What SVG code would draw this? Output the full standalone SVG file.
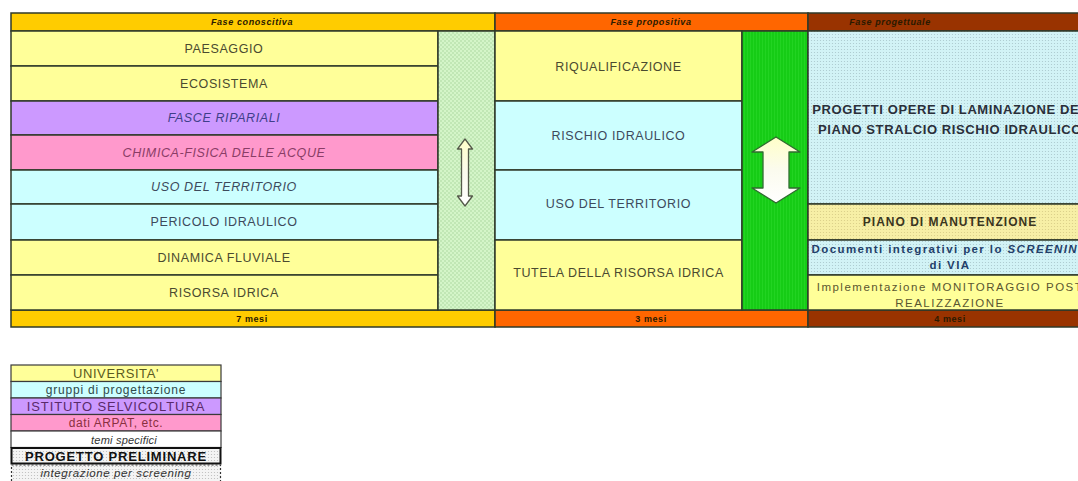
<svg xmlns="http://www.w3.org/2000/svg" width="1078" height="481" viewBox="0 0 1078 481">
<defs>
<pattern id="dotGreen" width="4" height="4" patternUnits="userSpaceOnUse">
<rect width="4" height="4" fill="#d4f5c8"/>
<circle cx="1" cy="1" r="0.7" fill="#9fcf93"/>
<circle cx="3" cy="3" r="0.7" fill="#9fcf93"/>
</pattern>
<pattern id="dotCyan" width="3" height="3" patternUnits="userSpaceOnUse">
<rect width="3" height="3" fill="#d2f3f6"/>
<circle cx="1.5" cy="1.5" r="0.6" fill="#a9c7cc"/>
</pattern>
<pattern id="dotYellow" width="3" height="3" patternUnits="userSpaceOnUse">
<rect width="3" height="3" fill="#f7efa6"/>
<circle cx="1.5" cy="1.5" r="0.6" fill="#d8cc86"/>
</pattern>
<pattern id="dotWhite" width="3" height="3" patternUnits="userSpaceOnUse">
<rect width="3" height="3" fill="#f4f4f4"/>
<circle cx="1.5" cy="1.5" r="0.6" fill="#bbbbbb"/>
</pattern>
<pattern id="greenStripe" width="3" height="4" patternUnits="userSpaceOnUse">
<rect width="3" height="4" fill="#16cc16"/>
<rect width="1" height="4" fill="#22d422"/>
</pattern>
<linearGradient id="arrowFill" x1="0" y1="0" x2="0" y2="1">
<stop offset="0" stop-color="#ffffc8"/>
<stop offset="0.5" stop-color="#fbfbee"/>
<stop offset="1" stop-color="#ffffff"/>
</linearGradient>
</defs>
<style>
.cell{stroke:#2f3a2a;stroke-width:1.5}
.t{font-family:"Liberation Sans",Arial,sans-serif;font-size:12.5px;text-anchor:middle;dominant-baseline:central;letter-spacing:0.6px}
.hdr{font-family:"Liberation Sans",Arial,sans-serif;font-size:9px;font-weight:bold;font-style:italic;text-anchor:middle;dominant-baseline:central;letter-spacing:0.6px;fill:#2a1a00}
.b{font-family:"Liberation Sans",Arial,sans-serif;font-weight:bold;text-anchor:middle;dominant-baseline:central}
.lg{font-family:"Liberation Sans",Arial,sans-serif;font-size:12.5px;text-anchor:middle;dominant-baseline:central;letter-spacing:0.6px}
.lgc{stroke:#3a3a3a;stroke-width:1.2}
</style>
<rect width="1078" height="481" fill="#ffffff"/>

<g id="header">
<rect x="11" y="13" width="484" height="18" fill="#ffcc00" class="cell"/>
<rect x="495" y="13" width="313" height="18" fill="#ff6600" class="cell"/>
<rect x="808" y="13" width="275" height="18" fill="#993300" class="cell"/>
<text class="hdr" x="252" y="22">Fase conoscitiva</text>
<text class="hdr" x="651" y="22">Fase propositiva</text>
<text class="hdr" x="890" y="22" fill="#2a0800">Fase progettuale</text>
</g>

<g id="footer">
<rect x="11" y="310" width="484" height="17" fill="#ffcc00" class="cell"/>
<rect x="495" y="310" width="313" height="17" fill="#ff6600" class="cell"/>
<rect x="808" y="310" width="275" height="17" fill="#993300" class="cell"/>
<text class="hdr" x="252" y="318.5" style="font-style:normal">7 mesi</text>
<text class="hdr" x="651" y="318.5" style="font-style:normal">3 mesi</text>
<text class="hdr" x="950" y="318.5" style="font-style:normal" fill="#2a0800">4 mesi</text>
</g>

<g id="paesaggio"><rect x="11" y="31" width="427" height="35" fill="#ffff99" class="cell"/><text class="t" x="224" y="48.5" fill="#4a4a30">PAESAGGIO</text></g>
<g id="ecosistema"><rect x="11" y="66" width="427" height="35" fill="#ffff99" class="cell"/><text class="t" x="224" y="83.5" fill="#4a4a30">ECOSISTEMA</text></g>
<g id="fasce"><rect x="11" y="101" width="427" height="34" fill="#cc99ff" class="cell"/><text class="t" x="224" y="118" fill="#3f3f8a" font-style="italic">FASCE RIPARIALI</text></g>
<g id="chimica"><rect x="11" y="135" width="427" height="35" fill="#ff99cc" class="cell"/><text class="t" x="224" y="152.5" fill="#8a3d66" font-style="italic">CHIMICA-FISICA DELLE ACQUE</text></g>
<g id="uso1"><rect x="11" y="170" width="427" height="34" fill="#ccffff" class="cell"/><text class="t" x="224" y="187" fill="#3d4a5c" font-style="italic">USO DEL TERRITORIO</text></g>
<g id="pericolo"><rect x="11" y="204" width="427" height="36" fill="#ccffff" class="cell"/><text class="t" x="224" y="222" fill="#3d4a5c">PERICOLO IDRAULICO</text></g>
<g id="dinamica"><rect x="11" y="240" width="427" height="35" fill="#ffff99" class="cell"/><text class="t" x="224" y="257.5" fill="#4a4a30">DINAMICA FLUVIALE</text></g>
<g id="risorsa"><rect x="11" y="275" width="427" height="35" fill="#ffff99" class="cell"/><text class="t" x="224" y="292.5" fill="#4a4a30">RISORSA IDRICA</text></g>

<g id="colonna1"><rect x="438" y="31" width="57" height="279" fill="url(#dotGreen)" class="cell"/></g>

<g id="riqualificazione"><rect x="495" y="31" width="247" height="70" fill="#ffff99" class="cell"/><text class="t" x="618.5" y="67" fill="#4a4a30">RIQUALIFICAZIONE</text></g>
<g id="rischio"><rect x="495" y="101" width="247" height="69" fill="#ccffff" class="cell"/><text class="t" x="618.5" y="136" fill="#3d4a5c">RISCHIO IDRAULICO</text></g>
<g id="uso2"><rect x="495" y="170" width="247" height="70" fill="#ccffff" class="cell"/><text class="t" x="618.5" y="204" fill="#3d4a5c">USO DEL TERRITORIO</text></g>
<g id="tutela"><rect x="495" y="240" width="247" height="70" fill="#ffff99" class="cell"/><text class="t" x="618.5" y="273" fill="#4a4a30">TUTELA DELLA RISORSA IDRICA</text></g>

<g id="colonna2"><rect x="742" y="31" width="66" height="279" fill="url(#greenStripe)" class="cell"/></g>

<g id="progetti"><rect x="808" y="31" width="290" height="173" fill="url(#dotCyan)" class="cell"/>
<text class="b" x="950" y="109" font-size="13" letter-spacing="0.6" fill="#2a2f3a">PROGETTI OPERE DI LAMINAZIONE DEL</text>
<text class="b" x="950" y="129" font-size="13" letter-spacing="0.6" fill="#2a2f3a">PIANO STRALCIO RISCHIO IDRAULICO</text></g>
<g id="manutenzione"><rect x="808" y="204" width="290" height="36" fill="url(#dotYellow)" class="cell"/>
<text class="b" x="950" y="222" font-size="12" letter-spacing="1" fill="#3a3520">PIANO DI MANUTENZIONE</text></g>
<g id="documenti"><rect x="808" y="240" width="290" height="35" fill="url(#dotCyan)" class="cell"/>
<text class="b" x="950" y="249" font-size="11.5" letter-spacing="1.4" fill="#23406a">Documenti integrativi per lo <tspan font-style="italic">SCREENING</tspan></text>
<text class="b" x="950" y="265" font-size="11.5" letter-spacing="1.4" fill="#23406a">di VIA</text></g>
<g id="implementazione"><rect x="808" y="275" width="290" height="35" fill="#ffff99" class="cell"/>
<text class="t" x="950" y="287" fill="#5a5630" style="font-size:11.5px;letter-spacing:1.5px">Implementazione MONITORAGGIO POST</text>
<text class="t" x="950" y="303" fill="#5a5630" style="font-size:11.5px;letter-spacing:1.5px">REALIZZAZIONE</text></g>

<g id="connectors">
<path d="M465,139 L472.5,149 L468.5,149 L468.5,196 L472.5,196 L465,206 L457.5,196 L461.5,196 L461.5,149 L457.5,149 Z" fill="url(#arrowFill)" stroke="#555a4a" stroke-width="1.3" stroke-linejoin="round"/>
<path d="M776,137 L800,152 L789,152 L789,188 L800,188 L776,203 L752,188 L763,188 L763,152 L752,152 Z" fill="url(#arrowFill)" stroke="#2f6b2f" stroke-width="1.3" stroke-linejoin="round"/>
</g>

<g id="legenda">
<g id="lg-universita"><rect x="11" y="365" width="210" height="16.5" fill="#ffff99" class="lgc"/><text class="lg" x="116" y="373.5" fill="#5a5a20" style="font-size:13px">UNIVERSITA'</text></g>
<g id="lg-gruppi"><rect x="11" y="381.5" width="210" height="16.5" fill="#ccffff" class="lgc"/><text class="lg" x="116" y="390" fill="#2f4a4a" style="font-size:12px;letter-spacing:0.8px">gruppi di progettazione</text></g>
<g id="lg-istituto"><rect x="11" y="398" width="210" height="16.5" fill="#cc99ff" class="lgc"/><text class="lg" x="116" y="406.5" fill="#5a2a6a" style="font-size:13px;letter-spacing:0.9px">ISTITUTO SELVICOLTURA</text></g>
<g id="lg-arpat"><rect x="11" y="414.5" width="210" height="16.5" fill="#ff99cc" class="lgc"/><text class="lg" x="116" y="423" fill="#8a3040" style="font-size:12px">dati ARPAT, etc.</text></g>
<g id="lg-temi"><rect x="11" y="431" width="210" height="16.5" fill="#ffffff" class="lgc"/><text class="lg" x="124" y="439.5" fill="#333333" font-style="italic" style="font-size:11px;letter-spacing:0.2px">temi specifici</text></g>
<g id="lg-progetto"><rect x="11.5" y="448" width="209" height="15.5" fill="url(#dotWhite)" stroke="#111111" stroke-width="2"/><text class="lg" x="116" y="456" fill="#111111" font-weight="bold" style="font-size:13px;letter-spacing:0.8px">PROGETTO PRELIMINARE</text></g>
<g id="lg-integrazione"><rect x="11.5" y="465" width="209" height="17" fill="url(#dotWhite)" stroke="#333333" stroke-width="1.2" stroke-dasharray="2,2"/><text class="lg" x="116" y="473" fill="#333333" font-style="italic" style="font-size:11.5px">integrazione per screening</text></g>
</g>
</svg>
